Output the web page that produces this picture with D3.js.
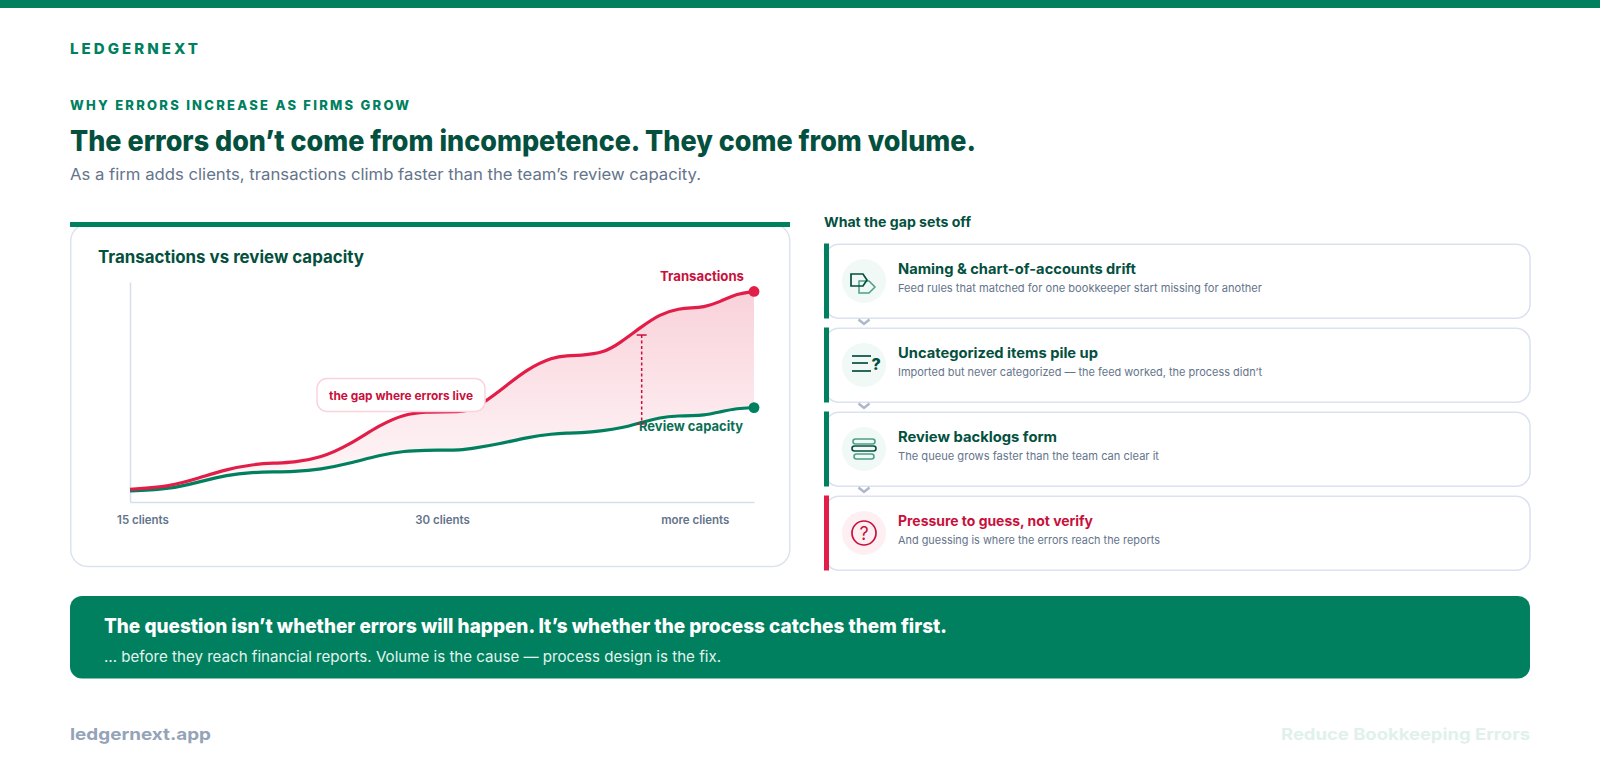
<!DOCTYPE html>
<html lang="en">
<head>
    <meta charset="UTF-8">
    <title>Why errors increase as firms grow</title>
    <style>
        html, body { margin: 0; padding: 0; background: #fff; }
        svg { display: block; }
        text { font-family: Inter, "Noto Sans", sans-serif; }
        .axis path { stroke: #d5dfe9; stroke-width: 1.5; }
        .axis text { font-size: 11.5px; font-weight: 600; fill: #64748b; }
    </style>
</head>
<body>
    <svg width="1600" height="774"></svg>
    <script src="https://d3js.org/d3.v7.min.js"></script>
    <script>
        // chart values, x is progress along the client axis (0-100)
        const steps = [0, 6.4, 11.2, 15.5, 19.7, 23, 26.1, 30.6, 35.2, 40, 44, 47.6, 50, 52.9, 55, 59.3, 63.6, 67.8, 70, 72.1, 76, 78.5, 81.7, 84.9, 88.1, 90, 91.8, 94.6, 97.3, 100];
        const transactions = [5.8, 7, 11, 14.9, 17.1, 17.7, 17.9, 20, 26, 35, 40, 41, 41, 41, 41.8, 50.5, 60.5, 65.9, 66.5, 66.6, 67.9, 72.3, 79.1, 85.5, 88, 88.2, 88.4, 91, 94.8, 95.7];
        const reviewCapacity = [5, 5.8, 9.2, 12.3, 13.5, 13.7, 13.8, 14.8, 17.5, 21.4, 23.2, 23.5, 23.6, 23.6, 24.4, 26.4, 29.4, 31, 31.3, 31.4, 32.5, 33.5, 35.9, 38.5, 39.2, 39.3, 39.3, 41, 42.6, 42.9];
        const tickSteps = [2, 50, 90.5];
        const tickLabels = ["15 clients", "30 clients", "more clients"];
        const gapMarker = [82, 75.9, 35.5]; // step, top, bottom

        const cardTitles = ["Naming & chart-of-accounts drift", "Uncategorized items pile up", "Review backlogs form", "Pressure to guess, not verify"];
        const cardNotes = [
            "Feed rules that matched for one bookkeeper start missing for another",
            "Imported but never categorized \u2014 the feed worked, the process didn\u2019t",
            "The queue grows faster than the team can clear it",
            "And guessing is where the errors reach the reports"
        ];
        const cardTitleWidths = [238, 200, 159, 195];
        const cardNoteWidths = [364, 364, 261, 262];

        const green = "#00805f", darkGreen = "#04503e", red = "#e11d48", darkRed = "#c8103c", slate = "#64748b";

        const svg = d3.select("svg");

        function label(parent, str, x, y, size, weight, color, width, anchor) {
            const t = parent.append("text")
                .attr("x", x).attr("y", y)
                .attr("font-size", size).attr("font-weight", weight)
                .attr("fill", color)
                .attr("text-anchor", anchor || "start")
                .text(str);
            // Poppins is not installed, stretch to the measured width
            if (width) t.attr("textLength", width).attr("lengthAdjust", "spacingAndGlyphs");
            return t;
        }

        // header
        svg.append("rect").attr("width", 1600).attr("height", 8).attr("fill", green);
        label(svg, "LEDGERNEXT", 70, 54, 15, 800, green, 128).attr("lengthAdjust", "spacing");
        label(svg, "WHY ERRORS INCREASE AS FIRMS GROW", 70, 110, 13, 800, green, 339).attr("lengthAdjust", "spacing");
        label(svg, "The errors don\u2019t come from incompetence. They come from volume.", 70, 151, 28.5, 800, darkGreen, 906);
        label(svg, "As a firm adds clients, transactions climb faster than the team\u2019s review capacity.", 70, 180, 16, 400, slate, 631);

        // chart card
        svg.append("rect").attr("x", 70.75).attr("y", 224).attr("width", 719).attr("height", 342.5).attr("rx", 17)
            .attr("fill", "#fff").attr("stroke", "#dde3ee").attr("stroke-width", 1.5);
        svg.append("rect").attr("x", 70).attr("y", 222).attr("width", 720).attr("height", 5).attr("fill", green);
        label(svg, "Transactions vs review capacity", 98, 262.5, 17, 700, darkGreen, 266);

        const x = d3.scaleLinear().domain([0, 100]).range([130, 754]);
        const y = d3.scaleLinear().domain([0, 100]).range([502, 282]);

        const defs = svg.append("defs");
        const grad = defs.append("linearGradient").attr("id", "gapFill")
            .attr("gradientUnits", "userSpaceOnUse")
            .attr("x1", 0).attr("x2", 0).attr("y1", y(95)).attr("y2", y(5));
        grad.append("stop").attr("offset", 0).attr("stop-color", red).attr("stop-opacity", 0.2);
        grad.append("stop").attr("offset", 1).attr("stop-color", red).attr("stop-opacity", 0.03);

        const xAxis = d3.axisBottom(x).tickValues(tickSteps)
            .tickFormat((d, i) => tickLabels[i]).tickSize(0).tickPadding(14);
        svg.append("g").attr("class", "axis").attr("transform", `translate(0,${y(0)})`).call(xAxis);
        svg.append("g").attr("class", "axis").attr("transform", `translate(${x(0)},0)`)
            .call(d3.axisLeft(y).tickValues([]).tickSize(0));

        const curve = d3.curveBasis;
        const area = d3.area().x((d, i) => x(steps[i]))
            .y0((d, i) => y(reviewCapacity[i])).y1(d => y(d)).curve(curve);
        const line = d3.line().x((d, i) => x(steps[i])).y(d => y(d)).curve(curve);

        svg.append("path").datum(transactions).attr("d", area).attr("fill", "url(#gapFill)");
        svg.append("path").datum(reviewCapacity).attr("d", line)
            .attr("fill", "none").attr("stroke", green).attr("stroke-width", 3.2);
        svg.append("path").datum(transactions).attr("d", line)
            .attr("fill", "none").attr("stroke", red).attr("stroke-width", 3.2);

        const last = steps.length - 1;
        svg.append("circle").attr("cx", x(steps[last])).attr("cy", y(transactions[last])).attr("r", 5.4).attr("fill", red);
        svg.append("circle").attr("cx", x(steps[last])).attr("cy", y(reviewCapacity[last])).attr("r", 5.4).attr("fill", green);

        // dashed gap marker
        const gx = x(gapMarker[0]);
        svg.append("line").attr("x1", gx).attr("x2", gx).attr("y1", y(gapMarker[1])).attr("y2", y(gapMarker[2]))
            .attr("stroke", darkRed).attr("stroke-width", 1.5).attr("stroke-dasharray", "3 2.5");
        gapMarker.slice(1).forEach(v => {
            svg.append("line").attr("x1", gx - 5).attr("x2", gx + 5).attr("y1", y(v)).attr("y2", y(v))
                .attr("stroke", darkRed).attr("stroke-width", 1.5);
        });

        // callout
        svg.append("rect").attr("x", 317).attr("y", 378.5).attr("width", 168).attr("height", 33).attr("rx", 10)
            .attr("fill", "#fff").attr("stroke", "#fbd3dc").attr("stroke-width", 1.5);
        label(svg, "the gap where errors live", 329, 399.5, 12, 700, darkRed, 144);
        label(svg, "Transactions", 660, 281, 13, 700, darkRed, 84);
        label(svg, "Review capacity", 639, 431, 13, 700, "#0b6f55", 104);

        // right column
        label(svg, "What the gap sets off", 824, 226.5, 13.5, 700, darkGreen, 147);

        const cardY = d3.scaleBand().domain(d3.range(cardTitles.length)).range([243.5, 579.5]);
        const chevronColor = "#aeb6ca";

        cardTitles.forEach((title, i) => {
            const isLast = i === cardTitles.length - 1;
            const g = svg.append("g").attr("transform", `translate(824,${cardY(i)})`);
            g.append("rect").attr("x", 1).attr("y", 0.75).attr("width", 705).attr("height", 74).attr("rx", 14)
                .attr("fill", "#fff").attr("stroke", "#dbe1ef").attr("stroke-width", 1.5);
            g.append("rect").attr("width", 5).attr("height", 75).attr("fill", isLast ? red : green);
            g.append("circle").attr("cx", 40).attr("cy", 37.5).attr("r", 22).attr("fill", isLast ? "#fef0f2" : "#f0f9f6");
            label(g, title, 74, 30.5, 14, 700, isLast ? darkRed : darkGreen, cardTitleWidths[i]);
            label(g, cardNotes[i], 74, 48, 11, 400, slate, cardNoteWidths[i]);
            if (!isLast) {
                g.append("path").attr("d", "M34.5,76 L40,80.5 L45.5,76").attr("fill", "none")
                    .attr("stroke", chevronColor).attr("stroke-width", 2.4);
            }
            drawIcon(g.append("g").attr("transform", "translate(40,37.5)"), i);
        });

        function drawIcon(g, i) {
            const light = "#4f9f88";
            if (i === 0) {
                g.append("path").attr("d", "M-5,0 H5 L11,6 L5,12 H-5 Z").attr("fill", "none").attr("stroke", light).attr("stroke-width", 1.5);
                g.append("path").attr("d", "M-13,-7 H-1 L3,-1 L-1,5 H-13 Z").attr("fill", "none").attr("stroke", darkGreen).attr("stroke-width", 1.7);
            } else if (i === 1) {
                [[-9, 7], [-2, 4], [6, 7]].forEach(d => {
                    g.append("line").attr("x1", -12).attr("x2", d[1]).attr("y1", d[0]).attr("y2", d[0])
                        .attr("stroke", darkGreen).attr("stroke-width", 1.7);
                });
                label(g, "?", 7.5, 4.5, 16, 800, darkGreen);
            } else if (i === 2) {
                [[-11, -10, 22, light], [-12, -3, 24, darkGreen], [-10, 5, 20, light]].forEach(d => {
                    g.append("rect").attr("x", d[0]).attr("y", d[1]).attr("width", d[2]).attr("height", 5).attr("rx", 2.5)
                        .attr("fill", "none").attr("stroke", d[3]).attr("stroke-width", 1.6);
                });
            } else {
                g.append("circle").attr("r", 12).attr("fill", "none").attr("stroke", darkRed).attr("stroke-width", 1.7);
                label(g, "?", 0, 6.5, 18, 400, darkRed, null, "middle");
            }
        }

        // banner
        svg.append("rect").attr("x", 70).attr("y", 596).attr("width", 1460).attr("height", 82.5).attr("rx", 12).attr("fill", green);
        label(svg, "The question isn\u2019t whether errors will happen. It\u2019s whether the process catches them first.", 104, 633, 20, 800, "#fff", 843);
        label(svg, "\u2026 before they reach financial reports. Volume is the cause \u2014 process design is the fix.", 104, 661.5, 15, 400, "#e3f4ee", 617);

        // footer
        label(svg, "ledgernext.app", 70, 740, 16.5, 700, "#94a3b8", 141);
        label(svg, "Reduce Bookkeeping Errors", 1281, 740, 16, 700, "#dff1ea", 249);
    </script>
</body>
</html>
